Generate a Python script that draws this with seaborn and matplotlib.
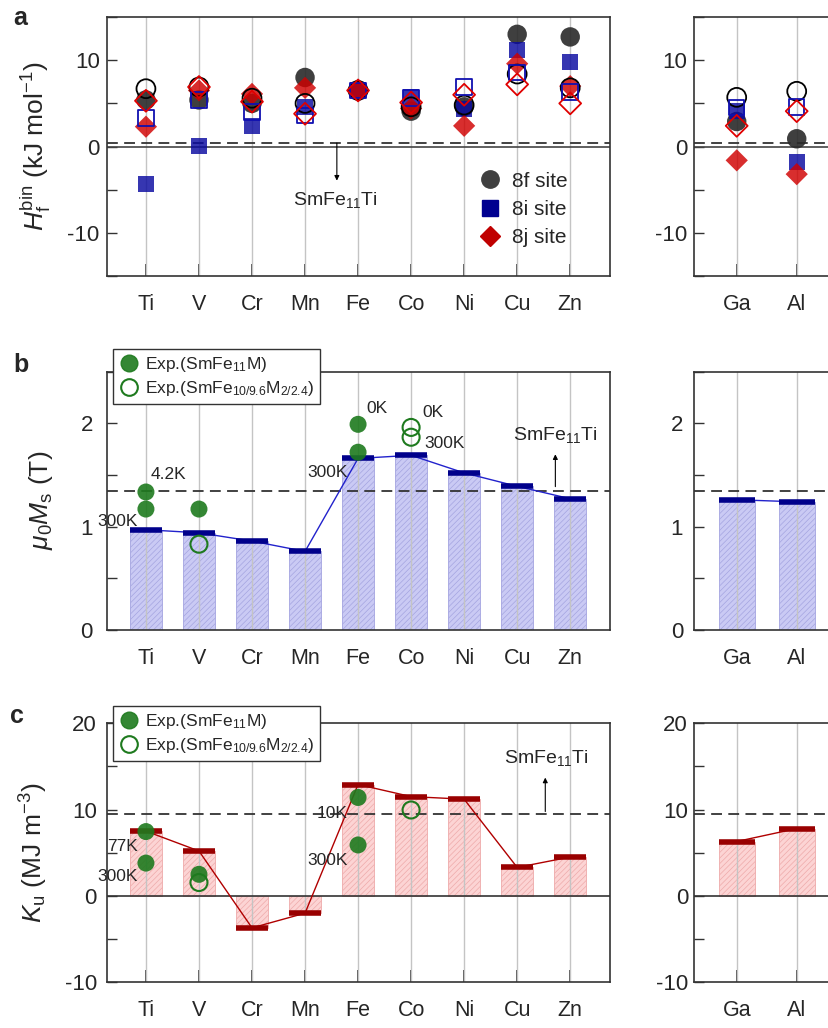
import numpy as np
import pandas as pd
import matplotlib
matplotlib.use('Agg')
import matplotlib.pyplot as plt
from matplotlib.lines import Line2D
from matplotlib.ticker import MultipleLocator
import seaborn as sns

#------------------ values
main_el = ['Ti', 'V', 'Cr', 'Mn', 'Fe', 'Co', 'Ni', 'Cu', 'Zn']
side_el = ['Ga', 'Al']
elements = main_el + side_el

# (a) binary formation enthalpy per substitution site (kJ/mol), filled and open symbols
hf_8f_fill = [5.4, 5.4, 5.0, 8.0, 6.5, 4.1, 4.6, 13.0, 12.7, 2.9, 0.9]
hf_8i_fill = [-4.3, 0.1, 2.4, 4.6, 6.5, 5.7, 4.4, 11.2, 9.8, 4.1, -1.8]
hf_8j_fill = [2.3, 6.5, 6.1, 6.8, 6.5, 4.4, 2.4, 9.6, 7.0, -1.6, -3.2]
hf_8f_open = [6.7, 6.9, 5.6, 5.0, 6.5, 4.6, 4.8, 8.4, 6.8, 5.7, 6.4]
hf_8i_open = [3.3, 5.4, 4.0, 3.6, 6.5, 5.6, 6.9, 8.6, 6.3, 4.5, 4.6]
hf_8j_open = [5.3, 6.9, 5.2, 3.8, 6.5, 5.1, 6.0, 7.2, 5.0, 2.4, 4.1]
hf_ref = 0.4

# (b) magnetization (T)
ms_calc = [0.97, 0.94, 0.86, 0.76, 1.66, 1.69, 1.52, 1.39, 1.27, 1.26, 1.24]
ms_ref = 1.34
ms_exp1_el = ['Ti', 'Ti', 'V', 'Fe', 'Fe']
ms_exp1 = [1.335, 1.17, 1.17, 1.99, 1.72]
ms_exp2_el = ['V', 'Co', 'Co']
ms_exp2 = [0.83, 1.96, 1.865]

# (c) anisotropy constant (MJ/m3)
ku_calc = [7.5, 5.2, -3.7, -2.0, 12.9, 11.5, 11.2, 3.3, 4.5, 6.3, 7.8]
ku_ref = 9.5
ku_exp1_el = ['Ti', 'Ti', 'V', 'Fe', 'Fe']
ku_exp1 = [7.45, 3.8, 2.5, 11.4, 5.9]
ku_exp2_el = ['V', 'Co']
ku_exp2 = [1.55, 9.95]

ref_name = 'SmFe$_{11}$Ti'
exp1_label = 'Exp.(SmFe$_{11}$M)'
exp2_label = 'Exp.(SmFe$_{10/9.6}$M$_{2/2.4}$)'

#------------------ style
sns.set_style('ticks')
plt.rcParams['font.family'] = ['Liberation Sans', 'DejaVu Sans']
plt.rcParams['mathtext.fontset'] = 'custom'
plt.rcParams['mathtext.rm'] = 'Liberation Sans'
plt.rcParams['mathtext.it'] = 'Liberation Sans:italic'
plt.rcParams['mathtext.bf'] = 'Liberation Sans:bold'
plt.rcParams['axes.unicode_minus'] = False
plt.rcParams['hatch.linewidth'] = 0.5

green = '#1e7a1e'
dash = (0, (6, 3.5))

fig = plt.figure(figsize=(8.29, 10.28), dpi=100)
rows = {'a': (0.7315, 0.2519), 'b': (0.3872, 0.2513), 'c': (0.0445, 0.2520)}
axes = {}
for key, (bot, h) in rows.items():
    axes[key] = (fig.add_axes([0.1287, bot, 0.6071, h]), fig.add_axes([0.8375, bot, 0.1625, h]))


def style_axes(ax, labels, xlim, ylim, major, minor, ypad, right=False):
    ax.set_xlim(xlim)
    ax.set_ylim(ylim)
    ax.set_xticks(range(len(labels)))
    ax.set_xticklabels(labels)
    ax.set_xlabel('')
    ax.set_ylabel('')
    ax.yaxis.set_major_locator(MultipleLocator(major))
    ax.yaxis.set_minor_locator(MultipleLocator(minor))
    ax.tick_params(axis='x', direction='in', length=9, width=1.2, labelsize=15.5, pad=13, color='#333333')
    ax.tick_params(axis='y', which='both', direction='in', length=7, width=1.0, labelsize=16,
                   pad=ypad, color='#333333')
    ax.tick_params(top=False, right=False, which='both')
    for x in range(len(labels)):
        ax.axvline(x, color='#c4c4c4', lw=1.0, zorder=1.5)
    for s in ax.spines.values():
        s.set_color('#333333')
        s.set_linewidth(1.2)
    if right:
        ax.spines['right'].set_visible(False)


def draw_bars(ax, names, vals, face, edge, cap, line):
    sns.barplot(x=names, y=vals, order=names, color=face, saturation=1, width=0.6, edgecolor=edge,
                linewidth=0.6, hatch='//////', errorbar=None, ax=ax, zorder=1)
    xs = np.arange(len(names))
    ax.plot(xs, vals, color=line, lw=1.0, zorder=3)
    ax.hlines(vals, xs - 0.3, xs + 0.3, color=cap, lw=4, zorder=4)


def draw_exp(ax, names, el, vals, filled):
    xs = [names.index(e) for e in el]
    if filled:
        sns.scatterplot(x=xs, y=vals, marker='o', s=150, color=green, edgecolor='none', alpha=0.9,
                        ax=ax, zorder=6, legend=False)
    else:
        ax.scatter(xs, vals, marker='o', s=150, facecolors='none', edgecolors=green, linewidths=1.5, zorder=6)


def exp_legend(ax, top):
    handles = [Line2D([], [], marker='o', ls='none', ms=12, mfc=green, mec=green, alpha=0.9),
               Line2D([], [], marker='o', ls='none', ms=12, mfc='none', mec=green, mew=1.5)]
    leg = ax.legend(handles, [exp1_label, exp2_label], loc='upper left', bbox_to_anchor=(0.0125, top),
                    frameon=True, fancybox=False, edgecolor='#333333', framealpha=1, fontsize=12.5,
                    borderaxespad=0, handletextpad=0.3, handlelength=1.2, labelspacing=0.3, borderpad=0.35)
    leg.get_frame().set_linewidth(1.0)
    leg.set_zorder(10)


arrow = dict(arrowstyle='-|>', lw=0.8, color='black', mutation_scale=7, shrinkA=0, shrinkB=0)

#------------------ (a)
n = len(main_el)
for ax, names, sl in [(axes['a'][0], main_el, slice(0, n)), (axes['a'][1], side_el, slice(n, None))]:
    xs = np.arange(len(names))
    sns.scatterplot(x=xs, y=hf_8f_fill[sl], marker='o', s=196, color='#2a2a2a', edgecolor='none',
                    alpha=0.9, ax=ax, zorder=4, legend=False)
    sns.scatterplot(x=xs, y=hf_8i_fill[sl], marker='s', s=132, color='#0a0aa0', edgecolor='none',
                    alpha=0.82, ax=ax, zorder=4, legend=False)
    sns.scatterplot(x=xs, y=hf_8j_fill[sl], marker='D', s=128, color='#d00000', edgecolor='none',
                    alpha=0.82, ax=ax, zorder=4, legend=False)
    ax.scatter(xs, hf_8f_open[sl], marker='o', s=185, facecolors='none', edgecolors='black', linewidths=1.3, zorder=5)
    ax.scatter(xs, hf_8i_open[sl], marker='s', s=125, facecolors='none', edgecolors='#1010b0', linewidths=1.3, zorder=5)
    ax.scatter(xs, hf_8j_open[sl], marker='D', s=124, facecolors='none', edgecolors='#e00000', linewidths=1.3, zorder=5)
    ax.axhline(0, color='#444444', lw=1.2, zorder=2)
    ax.axhline(hf_ref, color='#333333', lw=1.3, ls=dash, zorder=2)

style_axes(axes['a'][0], main_el, (-0.74, 8.75), (-15, 15), 10, 5, 5)
style_axes(axes['a'][1], side_el, (-0.707, 1.538), (-15, 15), 10, 5, 5, right=True)
axa = axes['a'][0]
axa.set_ylabel(r'$H_\mathrm{f}^\mathrm{bin}$ (kJ mol$^{-1}$)', fontsize=19)
axa.yaxis.set_label_coords(-0.107, 0.5)
axa.text(3.58, -6.2, ref_name, ha='center', va='center', fontsize=14)
axa.annotate('', xy=(3.6, -3.95), xytext=(3.6, hf_ref), arrowprops=arrow)
handles = [Line2D([], [], marker='o', ls='none', ms=12.5, mfc='#404040', mec='#404040'),
           Line2D([], [], marker='s', ls='none', ms=12, mfc='#000090', mec='#000090'),
           Line2D([], [], marker='D', ls='none', ms=10.5, mfc='#c00000', mec='#c00000')]
axa.legend(handles, ['8f site', '8i site', '8j site'], loc='upper left', bbox_to_anchor=(0.72, 0.435),
           frameon=False, fontsize=15, handletextpad=0.45, handlelength=1.2, labelspacing=0.45, borderaxespad=0)

#------------------ (b)
axb, axb2 = axes['b']
draw_bars(axb, main_el, ms_calc[:n], '#cacaf4', '#a4a4e0', '#00008b', '#2222cc')
draw_bars(axb2, side_el, ms_calc[n:], '#cacaf4', '#a4a4e0', '#00008b', '#2222cc')
for ax in (axb, axb2):
    ax.axhline(ms_ref, color='#333333', lw=1.3, ls=dash, zorder=2)
draw_exp(axb, main_el, ms_exp1_el, ms_exp1, True)
draw_exp(axb, main_el, ms_exp2_el, ms_exp2, False)
style_axes(axb, main_el, (-0.74, 8.75), (0, 2.5), 1, 0.5, 10)
style_axes(axb2, side_el, (-0.707, 1.538), (0, 2.5), 1, 0.5, 8, right=True)
axb.set_ylabel(r'$\mu_0M_\mathrm{s}$ (T)', fontsize=19)
axb.yaxis.set_label_coords(-0.103, 0.5)
for x, y, t, ha in [(0.094, 1.50, '4.2K', 'left'), (-0.53, 1.05, '300K', 'center'),
                    (3.43, 1.52, '300K', 'center'), (4.36, 2.14, '0K', 'center'),
                    (5.42, 2.10, '0K', 'center'), (5.63, 1.80, '300K', 'center')]:
    axb.text(x, y, t, ha=ha, va='center', fontsize=12.5, zorder=7)
axb.text(7.73, 1.89, ref_name, ha='center', va='center', fontsize=14)
axb.annotate('', xy=(7.72, 1.70), xytext=(7.72, 1.387), arrowprops=arrow)
exp_legend(axb, 1.088)

#------------------ (c)
axc, axc2 = axes['c']
draw_bars(axc, main_el, ku_calc[:n], '#fcd4d4', '#eeaaaa', '#990000', '#b00000')
draw_bars(axc2, side_el, ku_calc[n:], '#fcd4d4', '#eeaaaa', '#990000', '#b00000')
for ax in (axc, axc2):
    ax.axhline(0, color='#333333', lw=1.2, zorder=2)
    ax.axhline(ku_ref, color='#333333', lw=1.3, ls=dash, zorder=2)
draw_exp(axc, main_el, ku_exp1_el, ku_exp1, True)
draw_exp(axc, main_el, ku_exp2_el, ku_exp2, False)
style_axes(axc, main_el, (-0.74, 8.75), (-10, 20), 10, 5, 7)
style_axes(axc2, side_el, (-0.707, 1.538), (-10, 20), 10, 5, 4.5, right=True)
axc.set_ylabel(r'$K_\mathrm{u}$ (MJ m$^{-3}$)', fontsize=19)
axc.yaxis.set_label_coords(-0.113, 0.5)
for x, y, t in [(-0.45, 5.7, '77K'), (-0.54, 2.24, '300K'), (3.51, 9.5, '10K'), (3.42, 4.1, '300K')]:
    axc.text(x, y, t, ha='center', va='center', fontsize=12.5, zorder=7)
axc.text(7.56, 16.0, ref_name, ha='center', va='center', fontsize=14)
axc.annotate('', xy=(7.53, 13.7), xytext=(7.53, 9.77), arrowprops=arrow)
exp_legend(axc, 1.068)

#------------------ panel letters
for t, x, y in [('a', 0.0157, 1 - 25 / 1028), ('b', 0.0157, 1 - 371.7 / 1028), ('c', 0.012, 1 - 723.3 / 1028)]:
    fig.text(x, y, t, fontsize=18, fontweight='bold', va='baseline', ha='left')

fig.savefig('out.png', dpi=100)
